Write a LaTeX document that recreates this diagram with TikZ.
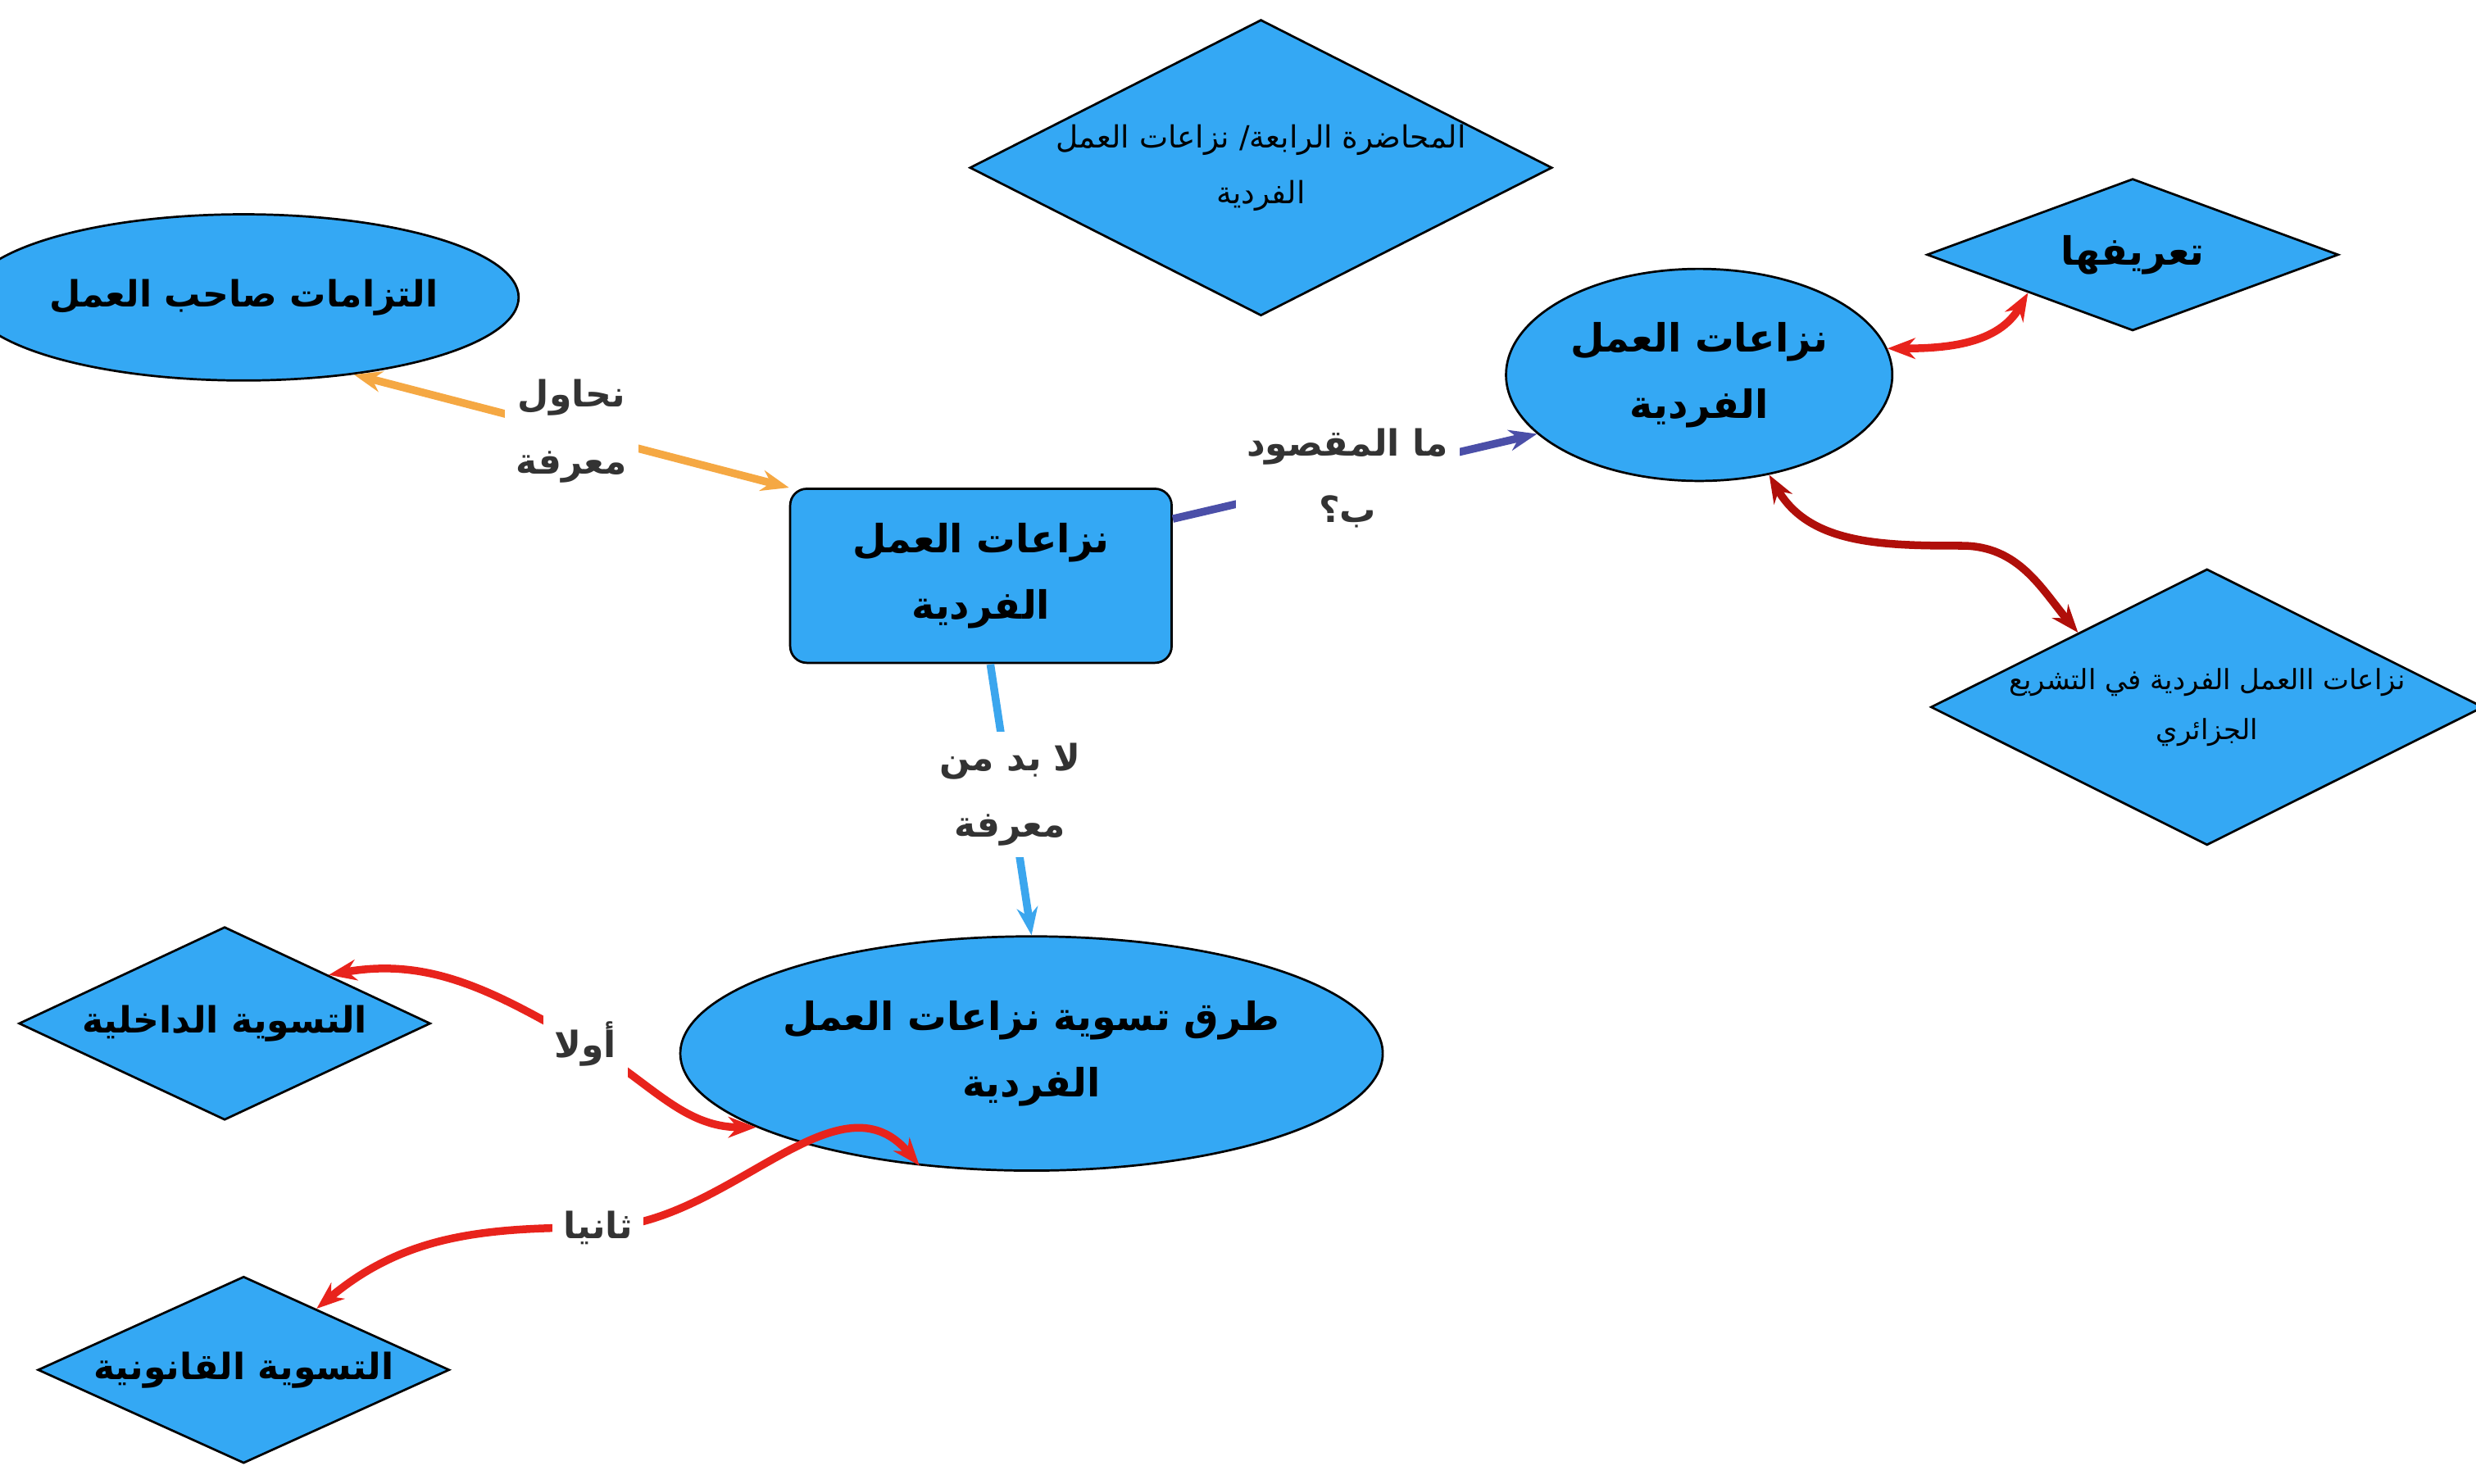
\documentclass[tikz,border=0pt]{standalone}
\usepackage{fontspec}
\usetikzlibrary{shapes.geometric,arrows.meta}
\TeXXeTstate=1
\newfontfamily\arabicfont[Script=Arabic]{DejaVu Sans}
\newcommand\artxt[1]{\beginR #1\endR}
\definecolor{boxblue}{HTML}{34A8F4}
\definecolor{lorange}{HTML}{F5A843}
\definecolor{lpurple}{HTML}{4B4FA8}
\definecolor{lblue}{HTML}{3BA6EE}
\definecolor{lred}{HTML}{E8231C}
\definecolor{dred}{HTML}{B00F0A}
\tikzset{
  blob/.style={draw, fill=boxblue, align=center, inner sep=0pt, font=\arabicfont\bfseries\fontsize{7}{12}\selectfont},
  ovalbox/.style={blob, ellipse},
  diabox/.style={blob, diamond, aspect=2},
  rectbox/.style={blob, rectangle, rounded corners=3pt},
  lab/.style={fill=white, text=black!80, align=center, inner sep=2pt, font=\arabicfont\bfseries\fontsize{6.5}{12}\selectfont},
  link/.style={line width=1.4pt, {Stealth[length=5pt]}-{Stealth[length=5pt]}}
}
\begin{document}
\begin{tikzpicture}[x=0.01cm, y=-0.01cm]
  \useasboundingbox (0,0) rectangle (1565,938);

  % العقد
  \node[diabox, minimum width=3.45cm, minimum height=1.87cm, font=\arabicfont\fontsize{5.5}{10}\selectfont] (title) at (797,106) {\artxt{المحاضرة الرابعة/ نزاعات العمل}\\\artxt{الفردية}};
  \node[ovalbox, minimum width=2.61cm, minimum height=1.05cm, font=\arabicfont\bfseries\fontsize{6.5}{12}\selectfont] (iltizam) at (154,188) {\artxt{التزامات  صاحب العمل}};
  \node[rectbox, minimum width=2.41cm, minimum height=1.10cm] (main) at (620,364) {\artxt{نزاعات العمل}\\\artxt{الفردية}};
  \node[ovalbox, minimum width=2.44cm, minimum height=1.34cm] (nizaa) at (1074,237) {\artxt{نزاعات العمل}\\\artxt{الفردية}};
  \node[diabox, minimum width=2.60cm, minimum height=0.96cm] (taarif) at (1348,161) {\artxt{تعريفها}};
  \node[diabox, minimum width=3.18cm, minimum height=1.63cm, font=\arabicfont\fontsize{5}{9}\selectfont] (jazair) at (1395,447) {\artxt{نزاعات االعمل الفردية في التشريع}\\\artxt{الجزائري}};
  \node[ovalbox, minimum width=3.30cm, minimum height=1.48cm] (turuq) at (652,666) {\artxt{طرق تسوية نزاعات العمل}\\\artxt{الفردية}};
  \node[diabox, minimum width=2.60cm, minimum height=1.22cm, font=\arabicfont\bfseries\fontsize{6.5}{12}\selectfont] (dakhili) at (142,647) {\artxt{التسوية الداخلية}};
  \node[diabox, minimum width=2.60cm, minimum height=1.18cm, font=\arabicfont\bfseries\fontsize{6.5}{12}\selectfont] (qanuni) at (154,866) {\artxt{التسوية القانونية}};

  % الروابط
  \draw[link, lorange] (main.north west) -- node[lab, pos=0.5]{\artxt{نحاول}\\\artxt{معرفة}} (iltizam.-35);
  \draw[line width=1.4pt, lpurple, -{Stealth[length=5pt]}] (main.east |- 0,328) -- node[lab, pos=0.48]{\artxt{ما المقصود}\\\artxt{ب؟}} (nizaa.200);
  \draw[line width=1.4pt, lblue, -{Stealth[length=5pt]}] (626,420) -- node[lab, pos=0.48]{\artxt{لا بد من}\\\artxt{معرفة}} (turuq.north);
  \draw[link, lred] (nizaa.8) to[out=0, in=-120] (taarif.200);
  \draw[link, dred] (nizaa.-55) to[out=-60, in=180] (1240,345) to[out=0, in=130] (jazair.150);
  \draw[link, lred] (turuq.195) to[out=180, in=-30] (370,660) node[lab]{\artxt{أولا}} to[out=150, in=10] (dakhili.25);
  \draw[link, lred] (turuq.225) to[out=130, in=0] (378,776) node[lab]{\artxt{ثانيا}} to[out=180, in=40] (qanuni.40);
\end{tikzpicture}
\end{document}
